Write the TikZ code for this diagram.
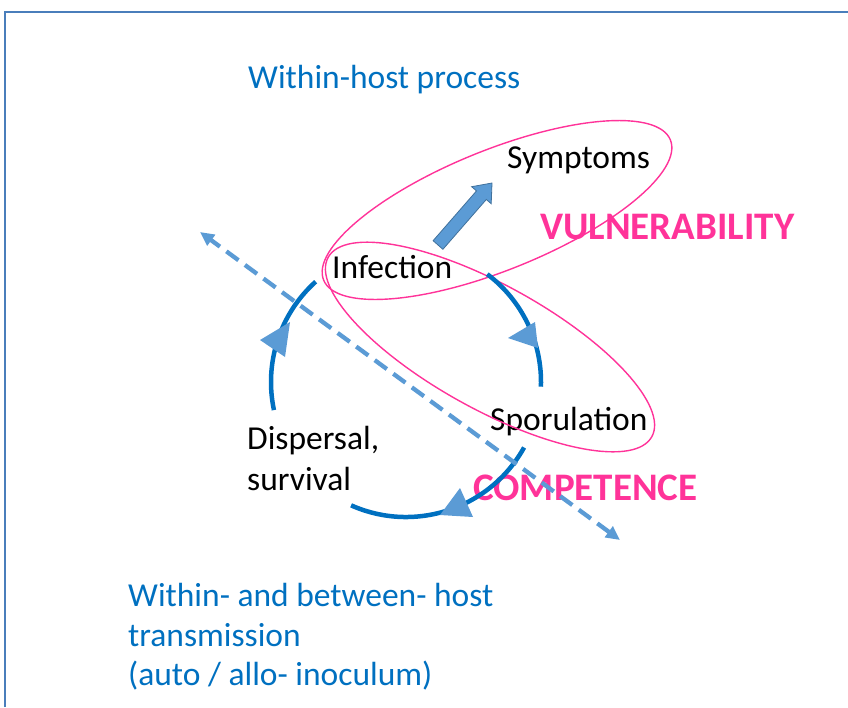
\documentclass[tikz,border=0pt]{standalone}
\usepackage{fontspec}
\setmainfont{Carlito}
\usetikzlibrary{arrows.meta}
\definecolor{txtblue}{HTML}{0070C0}
\definecolor{lblue}{HTML}{5B9BD5}
\definecolor{pinkc}{HTML}{FF3399}
\definecolor{frameblue}{HTML}{4A7EBB}
\definecolor{arrowedge}{HTML}{41719C}
\begin{document}
\begin{tikzpicture}[x=1pt,y=-1pt,
  lbl/.style={anchor=west,inner sep=0pt,font=\fontsize{33.5}{41}\selectfont},
  bluelbl/.style={lbl,text=txtblue},
  pinklbl/.style={anchor=west,inner sep=0pt,text=pinkc,font=\fontsize{39}{42}\selectfont\bfseries},
  cyc/.style={draw=txtblue,line width=4.5pt},
  cychead/.style={fill=lblue},
  zone/.style={draw=pinkc,line width=1.4pt},
  axis/.style={draw=lblue,line width=4.3pt,dash pattern=on 15pt off 8pt,
    {Triangle[length=14pt,width=13pt]}-{Triangle[length=14pt,width=13pt]}}]
\useasboundingbox (0,0) rectangle (848,707);
% frame
\draw[frameblue,line width=2pt] (5,707) -- (5,12) -- (848,12);
% texts
\node[bluelbl] (within) at (248,80) {Within-host process};
\node[lbl] (sym) at (507,160) {Symptoms};
\node[lbl] (inf) at (332,267) {Infection};
\node[lbl] (spor) at (490,422) {Sporulation};
\node[lbl,align=left] (disp) at (247,458) {Dispersal,\\survival};
\node[pinklbl] (vul) at (540,227) {VULNERABILITY};
\node[pinklbl] (comp) at (473,488) {COMPETENCE};
\node[bluelbl,align=left,font=\fontsize{33.5}{39.5}\selectfont] (trans) at (128,637)
  {Within- and between- host\\transmission\\(auto / allo- inoculum)};
% pink zones
\draw[zone,rotate around={22:(497,210)}] (497,210) ellipse[x radius=187,y radius=60];
\draw[zone,rotate around={-29:(490,347)}] (490,347) ellipse[x radius=185,y radius=62];
% cycle
\coordinate (C) at (406,382);
\draw[cyc] ([shift={(228:135)}]C) arc[start angle=228,end angle=168,radius=135];
\draw[cyc] ([shift={(-53:135)}]C) arc[start angle=-53,end angle=2,radius=135];
\draw[cyc] ([shift={(29:135)}]C) arc[start angle=29,end angle=114,radius=135];
\fill[cychead] (260,340) -- (290,322) -- (285,357) -- cycle;
\fill[cychead] (508,338) -- (535,322) -- (538,348) -- cycle;
\fill[cychead] (440,515) -- (460,488) -- (473,517) -- cycle;
% dashed axis
\coordinate (d1) at (620,540);
\coordinate (d2) at (200,232);
\draw[axis] (d1) -- (d2);
% block arrow infection -> symptoms
\filldraw[fill=lblue,draw=arrowedge,line width=0.8pt]
  (442.9,249.3) -- (486.3,199.5) -- (491.2,203.7) -- (492,183) -- (471.6,186.7)
  -- (476.5,190.9) -- (433.1,240.7) -- cycle;
\end{tikzpicture}
\end{document}
